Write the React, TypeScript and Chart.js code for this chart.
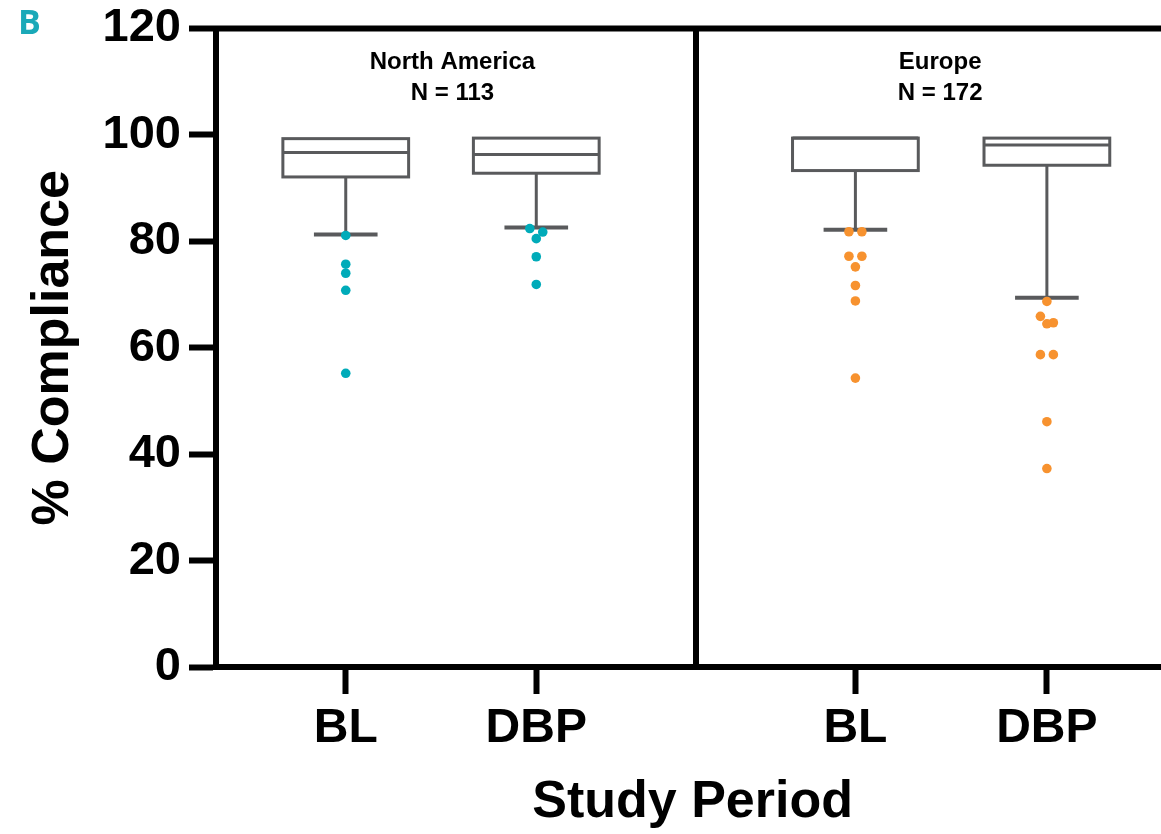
import React, { useEffect, useRef } from "react";
import { Chart, registerables } from "chart.js";

Chart.register(...registerables);

// ---- data ----
const categories = ["BL", "DBP", "BL", "DBP"];
const categoryX = [1, 2, 3.675, 4.68];
const regionNames = ["North America", "Europe"];
const regionN = [113, 172];
const regionTitleX = [1.56, 4.12];
const dividerX = 2.84;

const q1 = [92.1, 92.8, 93.3, 94.3];
const medians = [96.7, 96.3, 99.4, 98.1];
const q3 = [99.3, 99.4, 99.4, 99.4];
const whiskerLow = [81.3, 82.6, 82.2, 69.4];
const whiskerHigh = [99.3, 99.4, 99.4, 99.4];

const outliersNaBL = [81.1, 75.7, 74.0, 70.8, 55.2];
const outliersNaDBP = [82.4, 81.75, 80.5, 77.1, 71.9];
const outliersEuBL = [81.8, 81.8, 77.2, 77.2, 75.2, 71.7, 68.8, 54.3];
const outliersEuDBP = [68.7, 65.9, 64.7, 64.5, 58.7, 58.7, 46.1, 37.3];
const outlierGroups = [outliersNaBL, outliersNaDBP, outliersEuBL, outliersEuDBP];

const yTicks = [0, 20, 40, 60, 80, 100, 120];

// ---- style ----
const TEAL = "#00abb9";
const ORANGE = "#f7922f";
const groupColors = [TEAL, TEAL, ORANGE, ORANGE];
const BOX_COLOR = "#595a5c";
const BOX_HALF = 0.33;
const CAP_HALF = 0.167;
const SWARM_STEP = 0.068;
const ROW_GAP = 1.3;
const FONT = "'Liberation Sans', Arial, Helvetica, sans-serif";
const CANVAS_W = 1174;
const CANVAS_H = 834;

function swarm(values: number[], center: number) {
  const sorted = [...values].sort((a, b) => b - a);
  const pts: { x: number; y: number }[] = [];
  let i = 0;
  while (i < sorted.length) {
    const row = [sorted[i]];
    let j = i + 1;
    while (j < sorted.length && sorted[i] - sorted[j] < ROW_GAP) {
      row.push(sorted[j]);
      j++;
    }
    row.forEach((v, k) =>
      pts.push({ x: center + (k - (row.length - 1) / 2) * SWARM_STEP, y: v })
    );
    i = j;
  }
  return pts;
}

const boxPlugin = {
  id: "boxPlot",
  beforeDatasetsDraw(chart: any) {
    const { ctx, chartArea, scales } = chart;
    const x = scales.x;
    const y = scales.y;
    ctx.save();
    // top frame line
    ctx.strokeStyle = "#000";
    ctx.lineWidth = 6;
    ctx.beginPath();
    ctx.moveTo(chartArea.left - 3, chartArea.top);
    ctx.lineTo(chartArea.right, chartArea.top);
    ctx.stroke();
    // divider
    const dx = Math.round(x.getPixelForValue(dividerX));
    ctx.beginPath();
    ctx.moveTo(dx, chartArea.top);
    ctx.lineTo(dx, chartArea.bottom);
    ctx.stroke();

    // boxes
    categories.forEach((_, i) => {
      const cx = x.getPixelForValue(categoryX[i]);
      const l = x.getPixelForValue(categoryX[i] - BOX_HALF);
      const r = x.getPixelForValue(categoryX[i] + BOX_HALF);
      const cl = x.getPixelForValue(categoryX[i] - CAP_HALF);
      const cr = x.getPixelForValue(categoryX[i] + CAP_HALF);
      const yq1 = y.getPixelForValue(q1[i]);
      const yq3 = y.getPixelForValue(q3[i]);
      const ym = y.getPixelForValue(medians[i]);
      const ylo = y.getPixelForValue(whiskerLow[i]);
      const yhi = y.getPixelForValue(whiskerHigh[i]);
      ctx.strokeStyle = BOX_COLOR;
      // whisker stems
      ctx.lineWidth = 3;
      ctx.beginPath();
      ctx.moveTo(cx, yq1);
      ctx.lineTo(cx, ylo);
      ctx.moveTo(cx, yq3);
      ctx.lineTo(cx, yhi);
      ctx.stroke();
      // caps
      ctx.lineWidth = 4;
      ctx.beginPath();
      ctx.moveTo(cl, ylo);
      ctx.lineTo(cr, ylo);
      if (yhi < yq3 - 1) {
        ctx.moveTo(cl, yhi);
        ctx.lineTo(cr, yhi);
      }
      ctx.stroke();
      // box
      ctx.fillStyle = "#fff";
      ctx.fillRect(l, yq3, r - l, yq1 - yq3);
      ctx.lineWidth = 3;
      ctx.strokeRect(l, yq3, r - l, yq1 - yq3);
      // median
      ctx.beginPath();
      ctx.moveTo(l, ym);
      ctx.lineTo(r, ym);
      ctx.stroke();
    });

    // region titles
    ctx.fillStyle = "#000";
    ctx.font = `bold 24px ${FONT}`;
    ctx.textAlign = "center";
    ctx.textBaseline = "middle";
    regionNames.forEach((name, i) => {
      const tx = x.getPixelForValue(regionTitleX[i]);
      ctx.fillText(name, tx, chartArea.top + 34);
      ctx.fillText(`N = ${regionN[i]}`, tx, chartArea.top + 65);
    });

    // panel letter
    ctx.fillStyle = "#1aa9b8";
    ctx.font = `bold 34px 'Open Sans', sans-serif`;
    ctx.textAlign = "left";
    ctx.textBaseline = "alphabetic";
    ctx.fillText("B", 18, 34);
    ctx.restore();
  },
};

export default function App() {
  const ref = useRef<HTMLCanvasElement>(null);
  useEffect(() => {
    if (!ref.current) return;
    const datasets = outlierGroups.map((vals, i) => ({
      type: "scatter" as const,
      data: swarm(vals, categoryX[i]),
      backgroundColor: groupColors[i],
      borderWidth: 0,
      pointRadius: 4.8,
      pointHoverRadius: 4.8,
    }));
    const chart = new Chart(ref.current, {
      type: "scatter",
      data: { datasets },
      plugins: [boxPlugin],
      options: {
        animation: false,
        responsive: false,
        devicePixelRatio: 1,
        layout: { padding: { left: 0, right: 0, top: 28.5, bottom: 0 } },
        plugins: { legend: { display: false }, tooltip: { enabled: false } },
        scales: {
          x: {
            type: "linear",
            min: 0.319,
            max: 5.322,
            afterBuildTicks: (scale: any) => {
              scale.ticks = categoryX.map((v) => ({ value: v }));
            },
            afterFit: (scale: any) => {
              scale.height = 167;
              scale.paddingLeft = 0;
              scale.paddingRight = 0;
            },
            ticks: {
              autoSkip: false,
              maxRotation: 0,
              padding: 6,
              color: "#000",
              font: { family: FONT, size: 48, weight: "bold" },
              callback: (_v: any, i: number) => categories[i],
            },
            grid: {
              drawOnChartArea: false,
              drawTicks: true,
              tickLength: 27,
              tickWidth: 6,
              tickColor: "#000",
            },
            border: { display: true, width: 6, color: "#000" },
            title: {
              display: true,
              text: "Study Period",
              color: "#000",
              font: { family: FONT, size: 52, weight: "bold" },
              padding: { top: 0, bottom: 0 },
            },
          },
          y: {
            type: "linear",
            min: 0,
            max: 120,
            afterBuildTicks: (scale: any) => {
              scale.ticks = yTicks.map((v) => ({ value: v }));
            },
            afterFit: (scale: any) => {
              scale.width = 216;
              scale.paddingTop = 0;
              scale.paddingBottom = 0;
            },
            ticks: {
              padding: 8,
              color: "#000",
              font: { family: FONT, size: 47, weight: "bold" },
            },
            grid: {
              drawOnChartArea: false,
              drawTicks: true,
              tickLength: 27,
              tickWidth: 6,
              tickColor: "#000",
            },
            border: { display: true, width: 6, color: "#000" },
            title: {
              display: true,
              text: "% Compliance",
              color: "#000",
              font: { family: FONT, size: 52, weight: "bold" },
              padding: { top: 22, bottom: 0 },
            },
          },
        },
      },
    });
    return () => chart.destroy();
  }, []);
  return (
    <div style={{ position: "absolute", left: 0, top: 0, width: 1161, height: CANVAS_H, overflow: "hidden", background: "#fff" }}>
      <canvas ref={ref} width={CANVAS_W} height={CANVAS_H} style={{ display: "block" }} />
    </div>
  );
}
